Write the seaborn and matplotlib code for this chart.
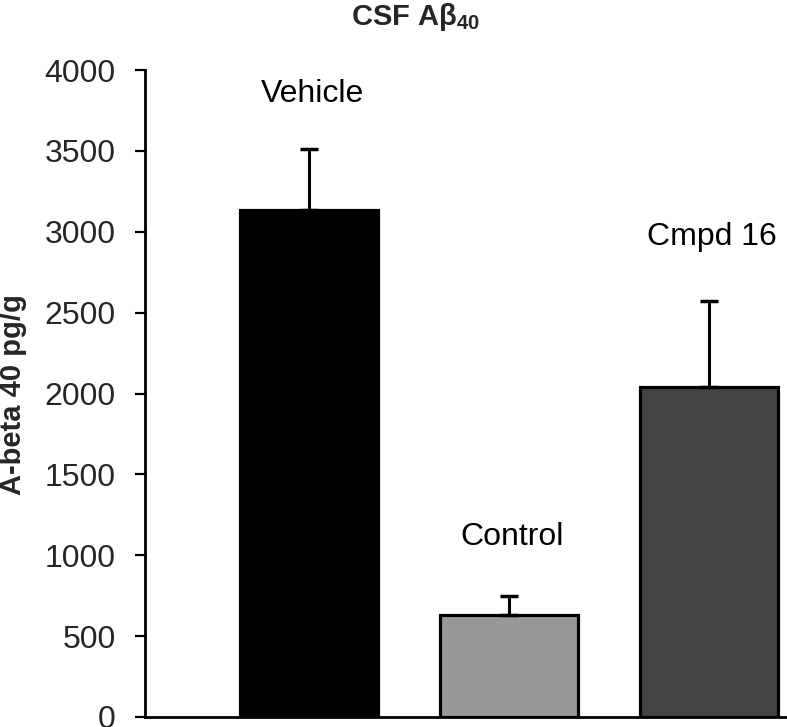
import numpy as np
import pandas as pd
import matplotlib
matplotlib.use('Agg')
import matplotlib.pyplot as plt
import seaborn as sns

# veriler
groups = ['Vehicle', 'Control', 'Cmpd 16']
abeta_mean = [3135, 630, 2040]
abeta_sem = [375, 118, 532]
bar_colors = ['#000000', '#989898', '#444444']
yticks = list(range(0, 4001, 500))

sns.set_style('ticks')
plt.rcParams['font.family'] = ['Liberation Sans', 'DejaVu Sans']
plt.rcParams['mathtext.fontset'] = 'custom'
plt.rcParams['mathtext.rm'] = 'Liberation Sans'
plt.rcParams['mathtext.bf'] = 'Liberation Sans:bold'

df = pd.DataFrame({'group': groups, 'abeta': abeta_mean})

fig = plt.figure(figsize=(7.87, 7.27), dpi=100)
ax = fig.add_axes([145 / 787, 10 / 727, 1 - 145 / 787, (717 - 70) / 727])

sns.barplot(data=df, x='group', y='abeta', hue='group', palette=bar_colors,
            width=0.69, edgecolor='black', linewidth=2.3, legend=False,
            errorbar=None, ax=ax)

# sadece yukari hata cubuklari
x = np.arange(len(groups))
ax.errorbar(x, abeta_mean, yerr=[np.zeros(len(groups)), abeta_sem], fmt='none',
            ecolor='black', elinewidth=2.2, capsize=6.5, capthick=2.5, zorder=1)

# grup etiketleri
label_y = [3800, 1063, 2918]
for i, (name, ly) in enumerate(zip(groups, label_y)):
    ax.text(i + 0.015, ly, name, ha='center', va='baseline', fontsize=23,
            color='black')

ax.set_ylim(0, 4000)
ax.set_xlim(-0.82, 2.39)
ax.set_yticks(yticks)
ax.set_yticklabels([str(t) for t in yticks], fontsize=23)
ax.tick_params(axis='y', length=7.2, width=1.6, pad=14, color='black')
ax.set_xticks([])
ax.set_xlabel('')
ax.set_ylabel('')
for s in ['top', 'right']:
    ax.spines[s].set_visible(False)
for s in ['left', 'bottom']:
    ax.spines[s].set_linewidth(2.0)
    ax.spines[s].set_color('black')
ax.spines['bottom'].set_zorder(5)

fig.text(416 / 787, 1 - 25 / 727, r'CSF A$\mathbf{β}_{\mathbf{40}}$', ha='center',
         va='baseline', fontsize=21, fontweight='bold')
fig.text(13 / 787, 1 - 395 / 727, 'A-beta 40 pg/g', rotation=90, ha='center',
         va='center', fontsize=21, fontweight='bold')

fig.savefig('out.png', dpi=100)
